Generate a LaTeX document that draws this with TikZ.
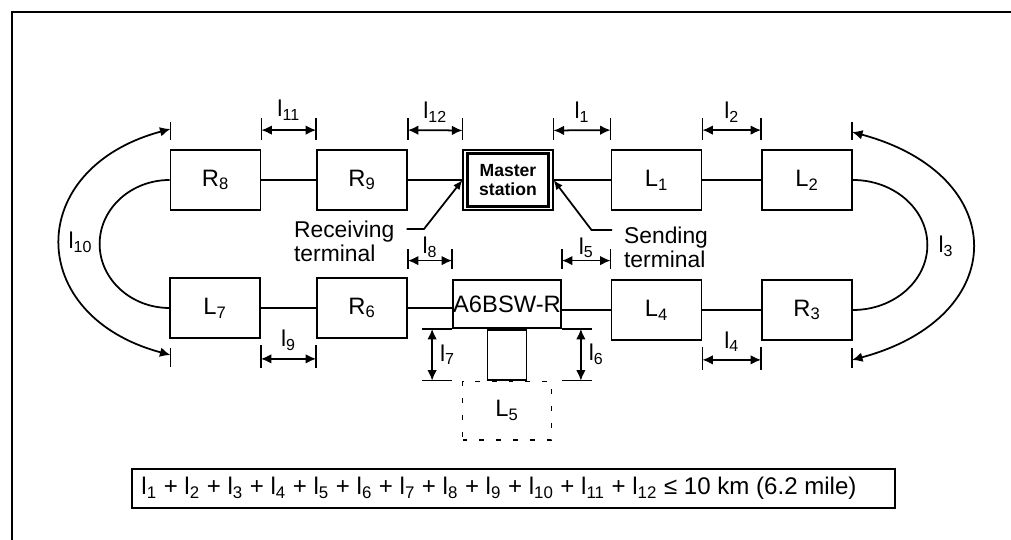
\documentclass[tikz,border=0pt]{standalone}
\usepackage{fontspec}
\setmainfont{Liberation Sans}
\usetikzlibrary{arrows.meta,calc}

\begin{document}
\begin{tikzpicture}[
  unit/.style={draw, rectangle, line width=1pt, minimum width=1.8cm, minimum height=1.2cm, inner sep=0pt, font=\fontsize{13.5}{14}\selectfont},
  wire/.style={line width=1pt},
  dimtick/.style={line width=0.8pt},
  dimline/.style={line width=1pt, {Latex[length=6pt,width=5.5pt]}-{Latex[length=6pt,width=5.5pt]}},
  leader/.style={line width=1pt, -{Latex[length=5.5pt,width=4.5pt]}},
  lbl/.style={font=\fontsize{13}{13.8}\selectfont, inner sep=1pt}]
\useasboundingbox (0,0) rectangle (20.22,10.8);
\draw[line width=1.6pt] (0.24,0) -- (0.24,10.56) -- (20.22,10.56);

\node[unit] (R8) at (4.31,7.2) {R\textsubscript{8}};
\node[unit] (R9) at (7.24,7.2) {R\textsubscript{9}};
\node[unit, line width=0.6pt, font=\fontsize{10}{11}\selectfont\bfseries, align=center] (master) at (10.16,7.2) {Master\\station};
\node[unit] (L1) at (13.13,7.2) {L\textsubscript{1}};
\node[unit] (L2) at (16.14,7.2) {L\textsubscript{2}};
\node[unit] (L7) at (4.30,4.64) {L\textsubscript{7}};
\node[unit] (R6) at (7.24,4.64) {R\textsubscript{6}};
\node[unit, minimum width=2.16cm, minimum height=0.96cm] (A6) at (10.14,4.72) {A6BSW-R};
\node[unit] (L4) at (13.13,4.6) {L\textsubscript{4}};
\node[unit] (R3) at (16.14,4.6) {R\textsubscript{3}};
\node[draw, line width=1pt, minimum width=0.78cm, minimum height=1.0cm, anchor=north] (stub) at (A6.south) {};
\node[unit, dash pattern=on 2.8pt off 6.8pt, minimum width=1.78cm, minimum height=1.17cm, anchor=north] (L5) at (stub.south) {L\textsubscript{5}};
\draw[line width=1.2pt] ($(master.north west)+(0.1,-0.08)$) rectangle ($(master.south east)+(-0.1,0.08)$);

\draw[wire] (R8) -- (R9);
\draw[wire] (R9) -- (master);
\draw[wire] (master) -- (L1);
\draw[wire] (L1) -- (L2);
\draw[wire] (L7) -- (R6);
\draw[wire] (R6.east) -- (R6.east -| A6.west);
\draw[wire] (L4.west -| A6.east) -- (L4.west);
\draw[wire] (L4) -- (R3);
\draw[wire] (R8.west) arc[start angle=90, end angle=270, x radius=1.4cm, y radius=1.28cm];
\draw[wire] (L2.east) arc[start angle=90, end angle=-90, x radius=1.49cm, y radius=1.3cm];

\node[lbl, align=left, anchor=west] (recv) at (5.84,5.98) {Receiving\\terminal};
\node[lbl, align=left, anchor=west] (send) at (12.44,5.86) {Sending\\terminal};
\coordinate (recvbend) at (8.48,6.22);
\coordinate (sendbend) at (11.83,6.2);
\draw[leader] ($(recv.east |- recvbend)+(0.2,0)$) -- (recvbend) -- (master.west);
\draw[leader] ($(send.west |- sendbend)+(-0.2,0)$) -- (sendbend) -- (master.east);

\draw[dimtick] ($(R8.north east)+(0,0.18)$) -- +(0,0.44) ($(R9.north west)+(0,0.18)$) -- +(0,0.44);
\draw[dimline] ($(R8.north east)+(0,0.38)$) -- node[lbl, above=4pt] {l\textsubscript{11}} ($(R9.north west)+(0,0.38)$);
\draw[dimtick] ($(R9.north east)+(0,0.18)$) -- +(0,0.44) ($(master.north west)+(0,0.18)$) -- +(0,0.44);
\draw[dimline] ($(R9.north east)+(0,0.38)$) -- node[lbl, above=3pt] {l\textsubscript{12}} ($(master.north west)+(0,0.38)$);
\draw[dimtick] ($(master.north east)+(0,0.18)$) -- +(0,0.44) ($(L1.north west)+(0,0.18)$) -- +(0,0.44);
\draw[dimline] ($(master.north east)+(0,0.38)$) -- node[lbl, above=3pt] {l\textsubscript{1}} ($(L1.north west)+(0,0.38)$);
\draw[dimtick] ($(L1.north east)+(0,0.18)$) -- +(0,0.44) ($(L2.north west)+(0,0.18)$) -- +(0,0.44);
\draw[dimline] ($(L1.north east)+(0,0.38)$) -- node[lbl, above=3pt] {l\textsubscript{2}} ($(L2.north west)+(0,0.38)$);

\draw[dimtick] ($(R6.east |- A6.north)+(0,0.2)$) -- +(0,0.41) ($(A6.north west)+(0,0.2)$) -- +(0,0.41);
\draw[dimline] ($(R6.east |- A6.north)+(0,0.37)$) -- node[lbl, above] {l\textsubscript{8}} ($(A6.north west)+(0,0.37)$);
\draw[dimtick] ($(A6.north east)+(0,0.2)$) -- +(0,0.41) ($(L4.west |- A6.north)+(0,0.2)$) -- +(0,0.41);
\draw[dimline] ($(A6.north east)+(0,0.37)$) -- node[lbl, above] {l\textsubscript{5}} ($(L4.west |- A6.north)+(0,0.37)$);

\draw[dimtick] ($(L7.south east)+(0,-0.12)$) -- +(0,-0.46) ($(R6.south west)+(0,-0.12)$) -- +(0,-0.46);
\draw[dimline] ($(L7.south east)+(0,-0.4)$) -- node[lbl, above=3pt] {l\textsubscript{9}} ($(R6.south west)+(0,-0.4)$);
\draw[dimtick] ($(L4.south east)+(0,-0.12)$) -- +(0,-0.46) ($(R3.south west)+(0,-0.12)$) -- +(0,-0.46);
\draw[dimline] ($(L4.south east)+(0,-0.38)$) -- node[lbl, above=3pt] {l\textsubscript{4}} ($(R3.south west)+(0,-0.38)$);

\draw[dimtick] (A6.south west) -- +(-0.6,0) (A6.west |- stub.south) -- +(-0.6,0);
\draw[dimline] ($(A6.south west)+(-0.4,0)$) -- node[lbl, right=3pt] {l\textsubscript{7}} ($(A6.west |- stub.south)+(-0.4,0)$);
\draw[dimtick] (A6.south east) -- +(0.6,0) (A6.east |- stub.south) -- +(0.6,0);
\draw[dimline] ($(A6.south east)+(0.38,0)$) -- node[lbl, right=3pt] {l\textsubscript{6}} ($(A6.east |- stub.south)+(0.38,0)$);

\coordinate (a10) at (3.41,8.22);
\coordinate (b10) at (3.41,3.7);
\coordinate (a3) at (17.04,8.16);
\coordinate (b3) at (17.04,3.6);
\draw[dimtick] ($(a10)+(0,0.14)$) -- +(0,-0.36) ($(b10)+(0,0.14)$) -- +(0,-0.38);
\draw[dimtick] ($(a3)+(0,0.2)$) -- +(0,-0.36) ($(b3)+(0,0.24)$) -- +(0,-0.4);
\draw[dimline] (a10) to[out=195, in=165, looseness=1.72] node[lbl, right=3pt] {l\textsubscript{10}} (b10);
\draw[dimline] (a3) to[out=-15, in=15, looseness=1.86] node[lbl, left=9pt] {l\textsubscript{3}} (b3);

\node[draw, line width=1pt, minimum width=15.26cm, minimum height=0.78cm] (sum) at (10.27,1.03) {};
\node[font=\fontsize{13.7}{14}\selectfont, inner sep=0pt, anchor=west] (sumtext) at ($(sum.west)+(0.2,0)$)
{l\textsubscript{1} + l\textsubscript{2} + l\textsubscript{3} + l\textsubscript{4} + l\textsubscript{5} + l\textsubscript{6} + l\textsubscript{7} + l\textsubscript{8} + l\textsubscript{9} + l\textsubscript{10} + l\textsubscript{11} + l\textsubscript{12} ≤ 10 km (6.2 mile)};
\end{tikzpicture}
\end{document}
